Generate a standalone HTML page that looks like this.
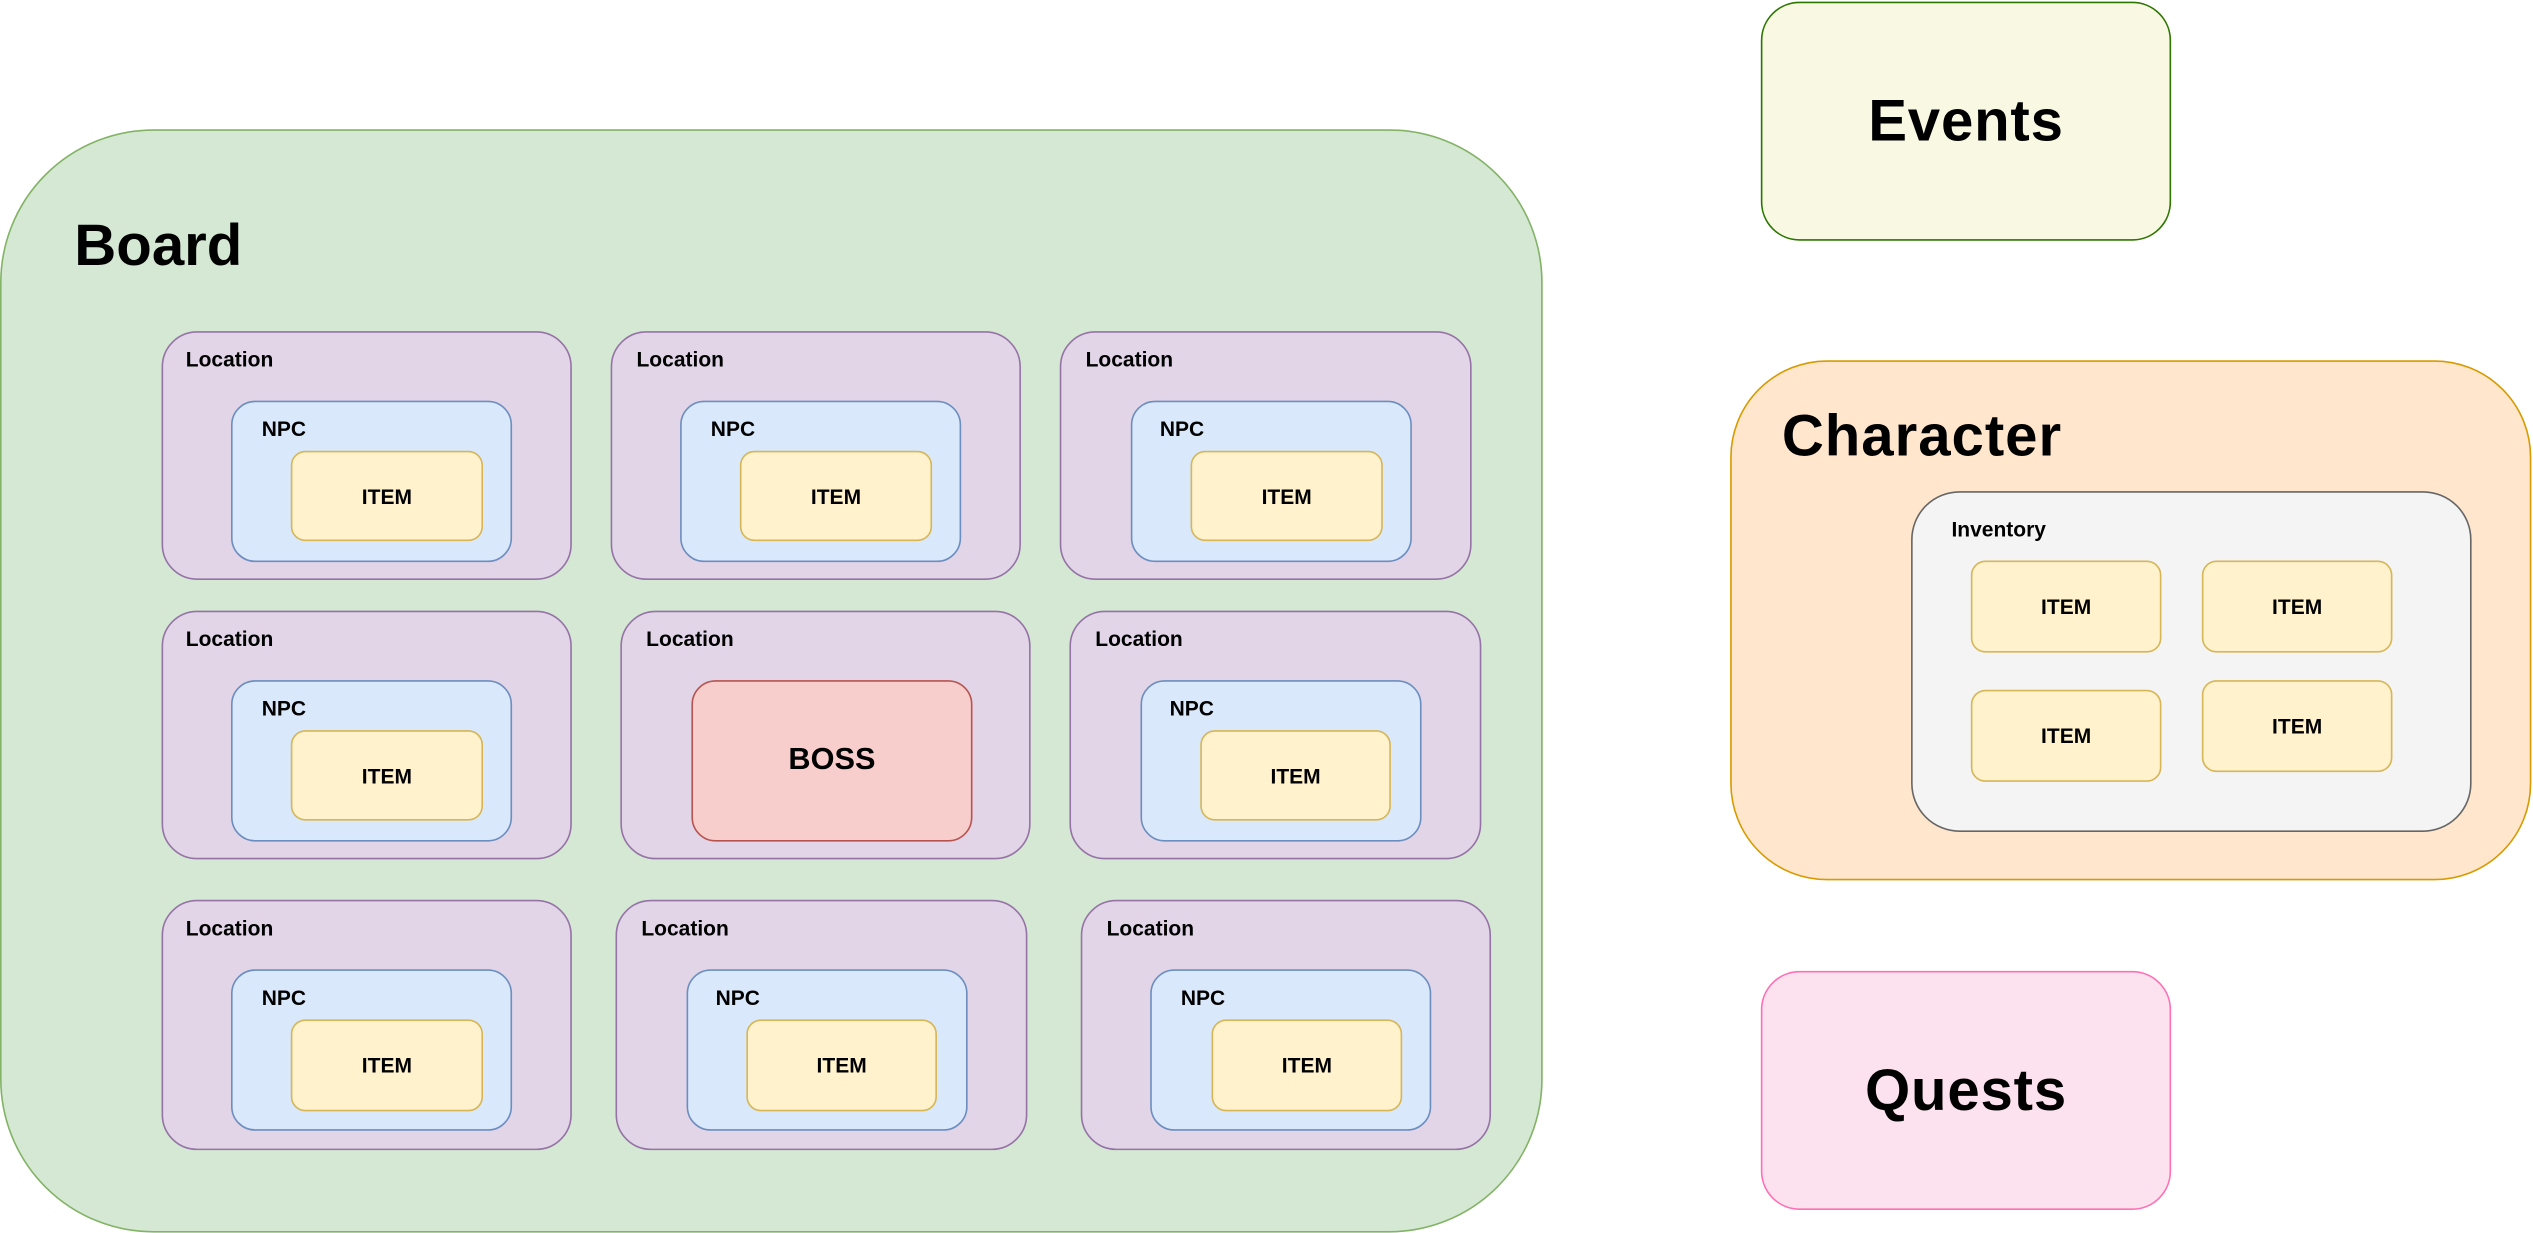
<!DOCTYPE html>
<html><head><meta charset="utf-8"><style>
html,body{margin:0;padding:0;background:#fff;width:2533px;height:1233px;overflow:hidden}
#w{position:absolute;left:0;top:0;width:1568px;height:763px;transform:scale(1.61543);transform-origin:0 0;font-family:"Liberation Sans",Arial,sans-serif;font-weight:bold;color:#000}
.b{position:absolute;box-sizing:border-box;border-width:1.6px;border-style:solid}
.t{position:absolute;white-space:nowrap}
.loc{background:#e1d5e7;border-color:#9673a6;border-radius:22px}
.npc{background:#dae8fc;border-color:#6c8ebf;border-radius:15px}
.item{background:#fff2cc;border-color:#d6b656;border-radius:9px;display:flex;align-items:center;justify-content:center;font-size:13px}
.s{font-size:13px}
</style></head><body><div id="w">
<div class="b" style="left:0;top:80px;width:955px;height:683px;background:#d5e8d4;border-color:#82b366;border-radius:95px"></div>
<div class="t" style="left:46px;top:131px;font-size:36px">Board</div>

<div class="b" style="left:1090px;top:1px;width:254px;height:148px;background:#f9f9e3;border-color:#2d7600;border-radius:24px;display:flex;align-items:center;justify-content:center;font-size:36px;letter-spacing:0.5px">Events</div>
<div class="b" style="left:1071px;top:223px;width:496px;height:322px;background:#ffe6cc;border-color:#d79b00;border-radius:60px"></div>
<div class="t" style="left:1103px;top:249px;font-size:36px;letter-spacing:0.6px">Character</div>
<div class="b" style="left:1183px;top:304px;width:347px;height:211px;background:#f4f4f4;border-color:#666;border-radius:30px"></div>
<div class="t s" style="left:1208px;top:320px">Inventory</div>
<div class="b item" style="left:1220px;top:347px;width:118px;height:57px">ITEM</div>
<div class="b item" style="left:1363px;top:347px;width:118px;height:57px">ITEM</div>
<div class="b item" style="left:1220px;top:427px;width:118px;height:57px">ITEM</div>
<div class="b item" style="left:1363px;top:421px;width:118px;height:57px">ITEM</div>
<div class="b" style="left:1090px;top:601px;width:254px;height:148px;background:#fce1ee;border-color:#ff6fb5;border-radius:24px;display:flex;align-items:center;justify-content:center;font-size:36px;letter-spacing:0.5px">Quests</div>

<!-- row1 -->
<div class="b loc" style="left:100px;top:205px;width:254px;height:154px"></div><div class="t s" style="left:115px;top:215px">Location</div>
<div class="b npc" style="left:143px;top:248px;width:174px;height:100px"></div><div class="t s" style="left:162px;top:258px">NPC</div>
<div class="b item" style="left:180px;top:279px;width:119px;height:56px">ITEM</div>

<div class="b loc" style="left:378px;top:205px;width:254px;height:154px"></div><div class="t s" style="left:394px;top:215px">Location</div>
<div class="b npc" style="left:421px;top:248px;width:174px;height:100px"></div><div class="t s" style="left:440px;top:258px">NPC</div>
<div class="b item" style="left:458px;top:279px;width:119px;height:56px">ITEM</div>

<div class="b loc" style="left:656px;top:205px;width:255px;height:154px"></div><div class="t s" style="left:672px;top:215px">Location</div>
<div class="b npc" style="left:700px;top:248px;width:174px;height:100px"></div><div class="t s" style="left:718px;top:258px">NPC</div>
<div class="b item" style="left:737px;top:279px;width:119px;height:56px">ITEM</div>

<!-- row2 -->
<div class="b loc" style="left:100px;top:378px;width:254px;height:154px"></div><div class="t s" style="left:115px;top:388px">Location</div>
<div class="b npc" style="left:143px;top:421px;width:174px;height:100px"></div><div class="t s" style="left:162px;top:431px">NPC</div>
<div class="b item" style="left:180px;top:452px;width:119px;height:56px">ITEM</div>

<div class="b loc" style="left:384px;top:378px;width:254px;height:154px"></div><div class="t s" style="left:400px;top:388px">Location</div>
<div class="b" style="left:428px;top:421px;width:174px;height:100px;background:#f8cecc;border-color:#b85450;border-radius:15px;display:flex;align-items:center;justify-content:center;font-size:19px">BOSS</div>

<div class="b loc" style="left:662px;top:378px;width:255px;height:154px"></div><div class="t s" style="left:678px;top:388px">Location</div>
<div class="b npc" style="left:706px;top:421px;width:174px;height:100px"></div><div class="t s" style="left:724px;top:431px">NPC</div>
<div class="b item" style="left:743px;top:452px;width:118px;height:56px">ITEM</div>

<!-- row3 -->
<div class="b loc" style="left:100px;top:557px;width:254px;height:155px"></div><div class="t s" style="left:115px;top:567px">Location</div>
<div class="b npc" style="left:143px;top:600px;width:174px;height:100px"></div><div class="t s" style="left:162px;top:610px">NPC</div>
<div class="b item" style="left:180px;top:631px;width:119px;height:57px">ITEM</div>

<div class="b loc" style="left:381px;top:557px;width:255px;height:155px"></div><div class="t s" style="left:397px;top:567px">Location</div>
<div class="b npc" style="left:425px;top:600px;width:174px;height:100px"></div><div class="t s" style="left:443px;top:610px">NPC</div>
<div class="b item" style="left:462px;top:631px;width:118px;height:57px">ITEM</div>

<div class="b loc" style="left:669px;top:557px;width:254px;height:155px"></div><div class="t s" style="left:685px;top:567px">Location</div>
<div class="b npc" style="left:712px;top:600px;width:174px;height:100px"></div><div class="t s" style="left:731px;top:610px">NPC</div>
<div class="b item" style="left:750px;top:631px;width:118px;height:57px">ITEM</div>
</div></body></html>
